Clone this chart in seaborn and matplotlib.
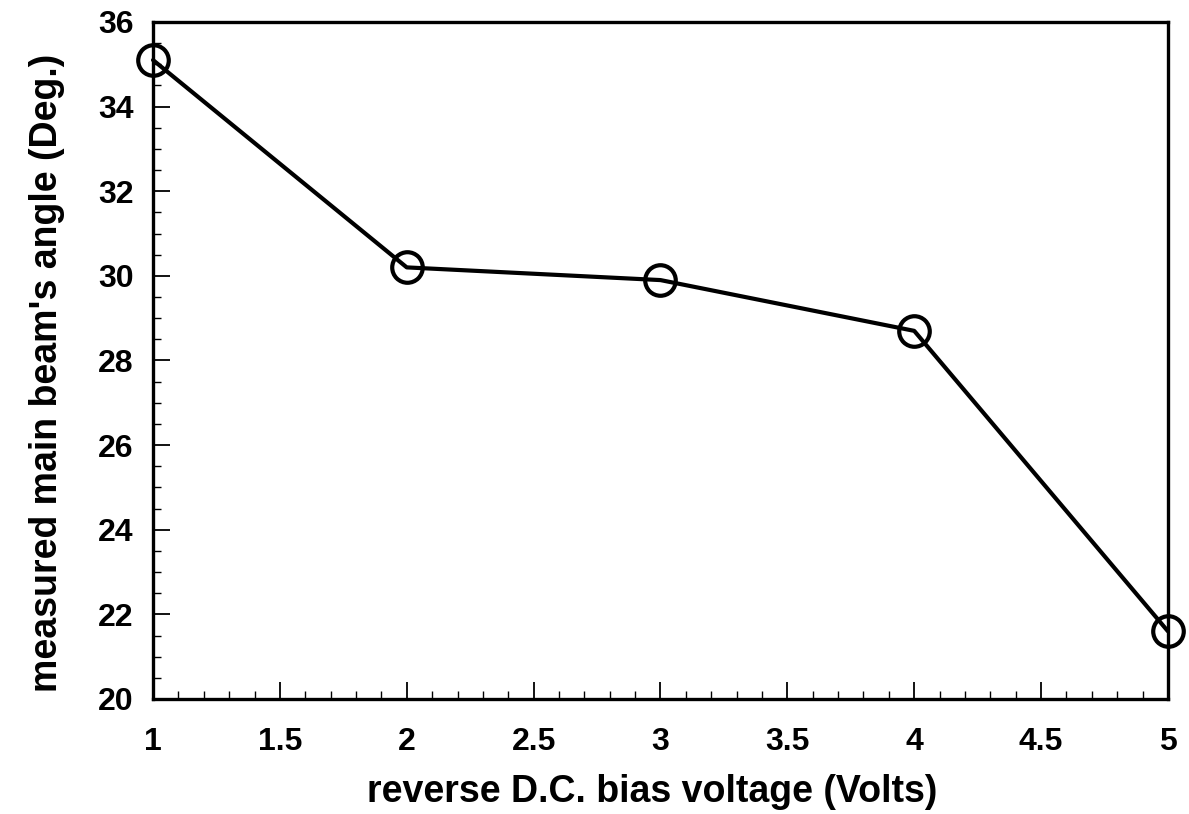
import matplotlib
matplotlib.use("Agg")
import matplotlib.pyplot as plt
from matplotlib.ticker import MultipleLocator
import seaborn as sns
import pandas as pd

# Measured beam angle versus reverse bias
bias_volts = [1, 2, 3, 4, 5]
beam_angle_deg = [35.1, 30.2, 29.9, 28.7, 21.6]

sns.set_style("white")
plt.rcParams["font.family"] = ["Liberation Sans", "DejaVu Sans"]
plt.rcParams["font.weight"] = "bold"
plt.rcParams["text.color"] = "black"
plt.rcParams["axes.labelcolor"] = "black"

df = pd.DataFrame({"bias": bias_volts, "angle": beam_angle_deg})

fig = plt.figure(figsize=(11.89, 8.14), dpi=100)
ax = fig.add_axes([0.1287, 0.1413, 0.8536, 0.8317])

sns.lineplot(data=df, x="bias", y="angle", ax=ax, color="black", linewidth=3.0,
             marker="o", markersize=22, markerfacecolor="none",
             markeredgecolor="black", markeredgewidth=3.0, clip_on=False, zorder=5)

ax.set_xlim(1, 5)
ax.set_ylim(20, 36)
ax.xaxis.set_major_locator(MultipleLocator(0.5))
ax.xaxis.set_minor_locator(MultipleLocator(0.1))
ax.yaxis.set_major_locator(MultipleLocator(2))
ax.yaxis.set_minor_locator(MultipleLocator(0.5))
ax.xaxis.set_major_formatter(plt.FuncFormatter(lambda v, p: f"{v:g}"))

ax.tick_params(axis="both", which="both", bottom=True, left=True, top=False, right=False)
ax.tick_params(axis="both", which="major", direction="in", length=12, width=1.3,
               labelsize=23, color="black", labelcolor="black")
ax.tick_params(axis="both", which="minor", direction="in", length=6, width=1.0,
               color="black")
ax.tick_params(axis="x", which="major", pad=20)
ax.tick_params(axis="y", which="major", pad=14)
for lab in ax.get_xticklabels() + ax.get_yticklabels():
    lab.set_fontweight("bold")

for s in ax.spines.values():
    s.set_visible(True)
    s.set_linewidth(2.4)
    s.set_color("black")

ax.set_xlabel("reverse D.C. bias voltage (Volts)", fontsize=27, fontweight="bold",
              color="black")
ax.set_ylabel("measured main beam's angle (Deg.)", fontsize=27, fontweight="bold",
              color="black")
ax.xaxis.set_label_coords(0.492, -0.111)
ax.yaxis.set_label_coords(-0.087, 0.481)

fig.savefig("out.png", dpi=100)
